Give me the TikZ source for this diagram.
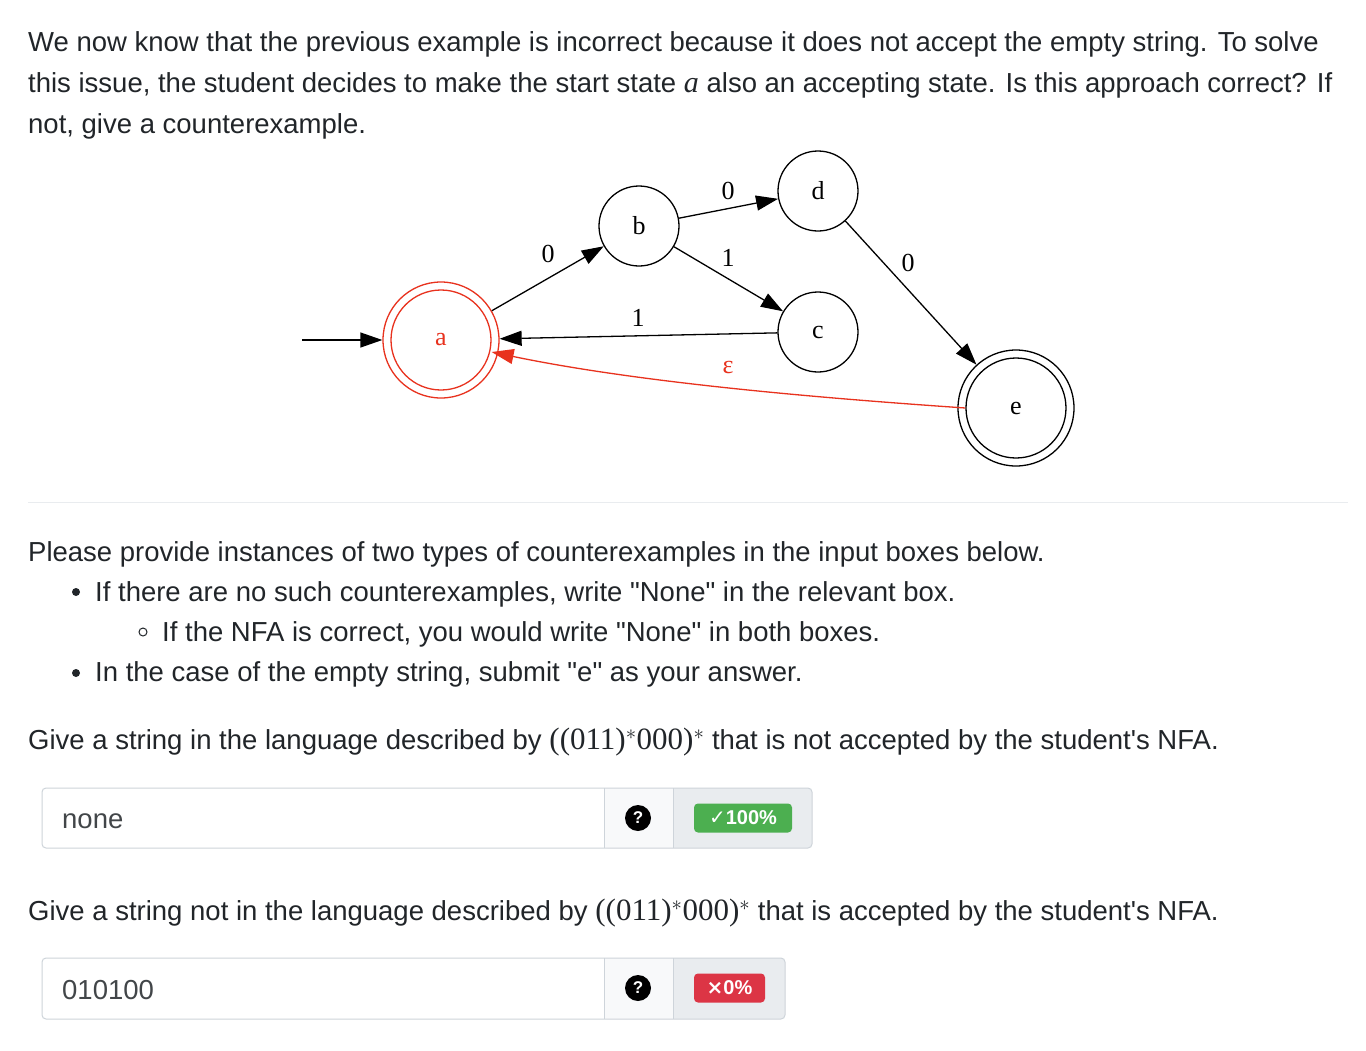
\documentclass[tikz,border=0pt]{standalone}
\usepackage{fontspec}
\setmainfont{Liberation Sans}
\newfontfamily\serif{Liberation Serif}
\newfontfamily\djfont{DejaVu Sans}
\usetikzlibrary{arrows.meta}
\definecolor{txt}{HTML}{212529}
\definecolor{redc}{HTML}{E8321E}
\definecolor{bord}{HTML}{CED4DA}
\definecolor{lg}{HTML}{F8F9FA}
\definecolor{mg}{HTML}{E9ECEF}
\definecolor{okg}{HTML}{4CAF50}
\definecolor{badr}{HTML}{DC3545}
\newcommand\qq{\textquotedbl}
\newcommand\ap{\textquotesingle}
\begin{document}
\begin{tikzpicture}[x=1pt,y=-1pt,
 para/.style={anchor=base west,inner sep=0,text=txt,font=\fontsize{27.5}{41}\selectfont},
 st/.style={circle,draw,line width=1.3pt,minimum size=80pt,inner sep=0,font=\serif\fontsize{26}{30}\selectfont},
 lab/.style={font=\serif\fontsize{26}{30}\selectfont,inner sep=0},
 ed/.style={line width=1.3pt,-{Triangle[length=22pt,width=15pt]}},
 qm/.style={circle,fill=black,text=white,minimum size=26pt,inner sep=0,font=\bfseries\fontsize{17}{17}\selectfont}]
\useasboundingbox[fill=white] (0,0) rectangle (1366,1050);
\node[para] (t1) at (28,51) {We now know that the previous example is incorrect because it does not accept the empty string. To solve};
\node[para] (t2) at (28,92) {this issue, the student decides to make the start state {\serif\itshape\fontsize{30}{30}\selectfont a} also an accepting state. Is this approach correct? If};
\node[para] (t3) at (28,133) {not, give a counterexample.};
% graph
\node[st,draw=redc,text=redc,minimum size=116pt] (a) at (441,340) {};
\node[circle,draw=redc,line width=1.3pt,minimum size=100pt] (ai) at (441,340) {};
\node[lab,text=redc] at (441,340) {a};
\node[st] (b) at (639,226) {b};
\node[st] (d) at (818,191) {d};
\node[st] (c) at (818,332) {c};
\node[st,minimum size=116pt] (e) at (1016,408) {};
\node[circle,draw,line width=1.3pt,minimum size=100pt] (ei) at (1016,408) {};
\node[lab] at (1016,408) {e};
\coordinate (s) at (302,340);
\draw[ed] (s) -- (a);
\draw[ed] (a) -- (b);
\draw[ed] (b) -- (d);
\draw[ed] (b) -- (c);
\draw[ed] (c) -- (a);
\draw[ed] (d) -- (e);
\draw[ed,redc] (ei.west) .. controls (850,400) and (650,385) .. (ai.east|-0,352);
\node[lab] (l1) at (548,254) {0};
\node[lab] (l2) at (728,191) {0};
\node[lab] (l3) at (728,258) {1};
\node[lab] (l4) at (638,318) {1};
\node[lab] (l5) at (908,263) {0};
\node[lab,text=redc] (l6) at (728,367) {ε};
\draw[line width=0.8pt,mg] (28,502) -- (1348,502);
% text
\node[para] (p1) at (28,561) {Please provide instances of two types of counterexamples in the input boxes below.};
\node[para] (p2) at (95,601) {If there are no such counterexamples, write \qq None\qq{} in the relevant box.};
\node[para] (p3) at (162,641) {If the NFA is correct, you would write \qq None\qq{} in both boxes.};
\node[para] (p4) at (95,681) {In the case of the empty string, submit \qq e\qq{} as your answer.};
\fill[txt] (76,592) circle (4pt);
\draw[txt,line width=1pt] (143,632) circle (4pt);
\fill[txt] (76,673) circle (4pt);
\node[para] (q1) at (28,749) {Give a string in the language described by {\serif\fontsize{31}{30}\selectfont ((011)$^*$000)$^*$} that is not accepted by the student\ap s NFA.};
\node[para] (q2) at (28,920) {Give a string not in the language described by {\serif\fontsize{31}{30}\selectfont ((011)$^*$000)$^*$} that is accepted by the student\ap s NFA.};
% box 1
\fill[mg,rounded corners=4pt] (604,788) rectangle (812,848);
\fill[lg] (604,788) rectangle (673,848);
\draw[bord,line width=1pt,rounded corners=4pt] (42,788) rectangle (812,848);
\draw[bord,line width=1pt] (604,788) -- (604,848) (673,788) -- (673,848);
\node[para,text=txt!85] (i1) at (62,828) {none};
\node[qm] (h1) at (638,818) {?};
\node[fill=okg,rounded corners=4pt,text=white,font=\bfseries\fontsize{20}{20}\selectfont,minimum width=98pt,minimum height=29pt,inner sep=0] (g1) at (743,818) {{\djfont\fontsize{20}{20}\selectfont ✓}100\%};
% box 2
\fill[mg,rounded corners=4pt] (604,958) rectangle (785,1019);
\fill[lg] (604,958) rectangle (673,1019);
\draw[bord,line width=1pt,rounded corners=4pt] (42,958) rectangle (785,1019);
\draw[bord,line width=1pt] (604,958) -- (604,1019) (673,958) -- (673,1019);
\node[para,text=txt!85] (i2) at (62,999) {010100};
\node[qm] (h2) at (638,988) {?};
\node[fill=badr,rounded corners=4pt,text=white,font=\bfseries\fontsize{20}{20}\selectfont,minimum width=71pt,minimum height=29pt,inner sep=0] (g2) at (729.5,988) {{\djfont\fontsize{20}{20}\selectfont ×}0\%};
\end{tikzpicture}
\end{document}
